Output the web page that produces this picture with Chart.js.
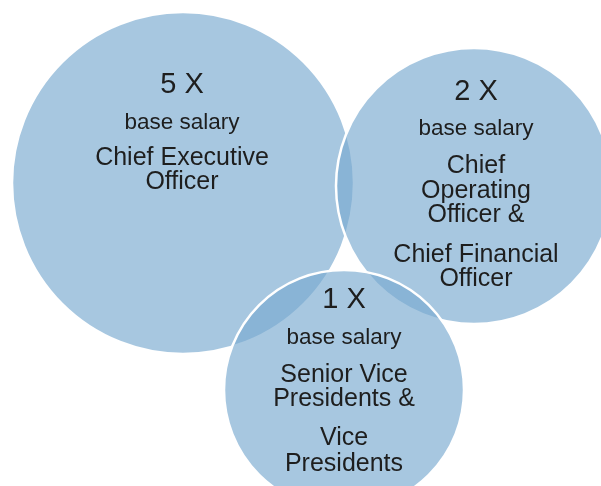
<!DOCTYPE html>
<html>
<head>
<meta charset="utf-8">
<script src="https://cdn.jsdelivr.net/npm/chart.js@4"></script>
<style>
  html, body { margin: 0; padding: 0; background: #ffffff; }
  #wrap { width: 601px; height: 486px; position: relative; }
</style>
</head>
<body>
<div id="wrap"><canvas id="c"></canvas></div>
<script>
// ---- data ----
const multiples = [5, 2, 1];
const subTitle = 'base salary';
const roles = [
  ['Chief Executive', 'Officer'],
  ['Chief', 'Operating', 'Officer &', 'Chief Financial', 'Officer'],
  ['Senior Vice', 'Presidents &', 'Vice', 'Presidents']
];
const bubbleX = [183, 474, 344];
const bubbleY = [183, 186, 390];
const bubbleR = [171, 138, 120];

// ---- text layout (baseline offsets from bubble centre) ----
const textLayout = [
  { dx: -1, lines: [-90, -54, -18, 6] },
  { dx: 2,  lines: [-86, -51, -13, 12, 36, 76, 100] },
  { dx: 0,  lines: [-82, -46, -8, 16, 55, 81] }
];

const labelPlugin = {
  id: 'bubbleLabels',
  afterDatasetsDraw(chart) {
    const ctx = chart.ctx;
    const meta = chart.getDatasetMeta(0);
    ctx.save();
    ctx.fillStyle = '#1e1e1e';
    ctx.textAlign = 'center';
    ctx.textBaseline = 'alphabetic';
    meta.data.forEach((el, i) => {
      const lay = textLayout[i];
      const x = el.x + lay.dx;
      const texts = [multiples[i] + ' X', subTitle].concat(roles[i]);
      texts.forEach((t, j) => {
        if (j === 0) ctx.font = '29px "Liberation Sans", Arial, sans-serif';
        else if (j === 1) ctx.font = '22.5px "Liberation Sans", Arial, sans-serif';
        else ctx.font = '25px "Liberation Sans", Arial, sans-serif';
        ctx.fillText(t, x, el.y + lay.lines[j]);
      });
    });
    ctx.restore();
  }
};

const points = bubbleX.map((x, i) => ({ x: x, y: bubbleY[i], r: bubbleR[i] }));

new Chart(document.getElementById('c'), {
  type: 'bubble',
  data: {
    datasets: [{
      data: points,
      backgroundColor: 'rgba(122,170,208,0.66)',
      borderColor: '#ffffff',
      borderWidth: 2.5,
      hoverRadius: 0,
      clip: false
    }]
  },
  options: {
    responsive: true,
    maintainAspectRatio: false,
    animation: false,
    events: [],
    devicePixelRatio: 1,
    layout: { padding: 0, autoPadding: false },
    plugins: { legend: { display: false }, tooltip: { enabled: false } },
    scales: {
      x: { type: 'linear', min: 0, max: 601, display: false },
      y: { type: 'linear', min: 0, max: 486, reverse: true, display: false }
    }
  },
  plugins: [labelPlugin]
});
</script>
</body>
</html>
